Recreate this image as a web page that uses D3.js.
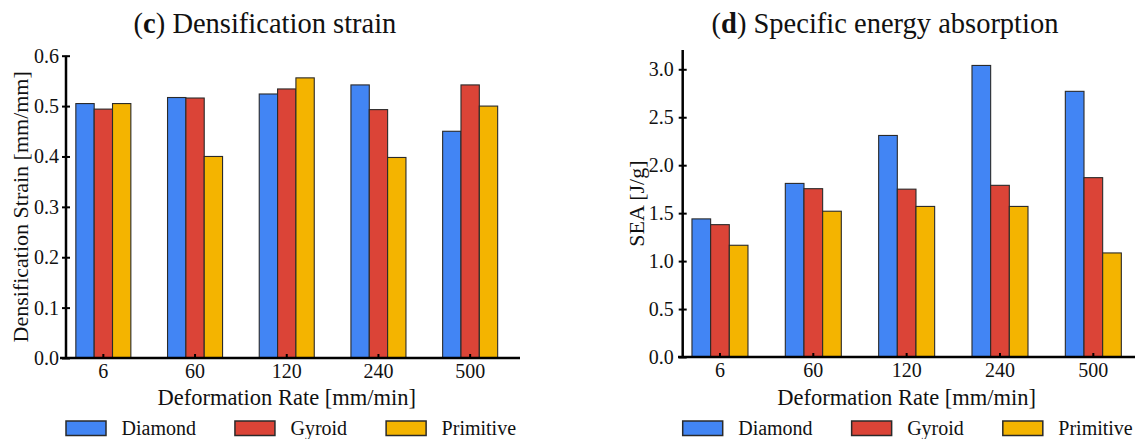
<!DOCTYPE html>
<html>
<head>
<meta charset="utf-8">
<script src="https://cdn.jsdelivr.net/npm/d3@7"></script>
<style>
	body { margin: 0; background: #fff; }
	svg { display: block; font-family: 'Liberation Serif', 'Times New Roman', serif; }
	svg text { font-family: 'Liberation Serif', 'Times New Roman', serif; }
</style>
</head>
<body>
<div id="chart"><svg width="1135" height="439"></svg></div>
<script>
var rates = ['6', '60', '120', '240', '500'];
var series = ['Diamond', 'Gyroid', 'Primitive'];
var colors = ['#4285f4', '#db4437', '#f4b400'];

var strainDiamond = [0.505, 0.517, 0.524, 0.542, 0.450];
var strainGyroid = [0.494, 0.516, 0.534, 0.493, 0.542];
var strainPrimitive = [0.505, 0.400, 0.556, 0.398, 0.500];
var strainTicks = [0, 0.1, 0.2, 0.3, 0.4, 0.5, 0.6];

var seaDiamond = [1.44, 1.81, 2.31, 3.04, 2.77];
var seaGyroid = [1.38, 1.755, 1.75, 1.79, 1.87];
var seaPrimitive = [1.165, 1.52, 1.57, 1.57, 1.085];
var seaTicks = [0, 0.5, 1.0, 1.5, 2.0, 2.5, 3.0];

var panels = [
	{
		letter: 'c', title: ' Densification strain', yLabel: 'Densification Strain [mm/mm]',
		values: [strainDiamond, strainGyroid, strainPrimitive], ticks: strainTicks, yMax: 0.6,
		xRange: [57.5, 516], yRange: [358, 55.7], axisX: 66, xLine: [60, 520], labelPad: 3, titleX: 265
	},
	{
		letter: 'd', title: ' Specific energy absorption', yLabel: 'SEA [J/g]',
		values: [seaDiamond, seaGyroid, seaPrimitive], ticks: seaTicks, yMax: 3.2,
		xRange: [673.3, 1140], yRange: [357, 50.1], axisX: 682.7, xLine: [678, 1140], labelPad: 5, titleX: 885
	}
];

var svg = d3.select('#chart > svg');

function drawPanel(p) {
	var g = svg.append('g');
	var x0 = d3.scaleBand().domain(rates).range(p.xRange).padding(0);
	var x1 = d3.scaleBand().domain(series).range([0, x0.bandwidth() * 0.6]);
	var y = d3.scaleLinear().domain([0, p.yMax]).range(p.yRange);
	var baseY = y(0);
	var off = (x0.bandwidth() - x1.range()[1]) / 2;

	var rows = rates.map(function(r, i) {
		return { rate: r, vals: series.map(function(s, j) { return { s: s, j: j, v: p.values[j][i] }; }) };
	});

	// bars
	g.selectAll('.grp').data(rows).enter().append('g')
		.attr('transform', function(d) { return 'translate(' + (x0(d.rate) + off) + ',0)'; })
		.selectAll('rect').data(function(d) { return d.vals; }).enter().append('rect')
		.attr('x', function(d) { return x1(d.s); })
		.attr('y', function(d) { return y(d.v); })
		.attr('width', x1.bandwidth())
		.attr('height', function(d) { return baseY - y(d.v); })
		.style('fill', function(d) { return colors[d.j]; })
		.style('stroke', '#2a2a2a')
		.style('stroke-width', 1.1);

	// y axis
	var ya = g.append('g')
		.attr('transform', 'translate(' + p.axisX + ',0)')
		.attr('font-family', null)
		.call(d3.axisLeft(y).tickValues(p.ticks).tickFormat(d3.format('.1f')).tickSizeOuter(0).tickSizeInner(4).tickPadding(p.labelPad));
	ya.attr('font-family', 'Liberation Serif');
	ya.select('.domain').remove();
	ya.selectAll('.tick line').attr('x1', -4).attr('x2', 4).style('stroke', '#000').style('stroke-width', 2);
	ya.selectAll('.tick text').style('font-size', '20px').attr('fill', '#111');
	g.append('line')
		.attr('x1', p.axisX).attr('x2', p.axisX)
		.attr('y1', y(p.yMax)).attr('y2', baseY + 1)
		.style('stroke', '#000').style('stroke-width', 2.5);

	// x axis
	var xa = g.append('g')
		.attr('transform', 'translate(0,' + baseY + ')')
		.call(d3.axisBottom(x0).tickSizeOuter(0).tickSizeInner(-4).tickPadding(0));
	xa.attr('font-family', 'Liberation Serif');
	xa.select('.domain').remove();
	xa.selectAll('.tick line').style('stroke', '#000').style('stroke-width', 2);
	xa.selectAll('.tick text').attr('y', 19.5).attr('dy', 0)
		.style('font-size', '20px').attr('fill', '#111');
	g.append('line')
		.attr('x1', p.xLine[0]).attr('x2', p.xLine[1])
		.attr('y1', baseY).attr('y2', baseY)
		.style('stroke', '#000').style('stroke-width', 2.5);

	// titles
	var cx = (p.xRange[0] + p.xRange[1]) / 2;
	var t = g.append('text').attr('x', p.titleX).attr('y', 33)
		.attr('text-anchor', 'middle').style('font-size', '28.5px').attr('fill', '#111');
	t.append('tspan').text('(');
	t.append('tspan').style('font-weight', 'bold').text(p.letter);
	t.append('tspan').text(')' + p.title);

	g.append('text').attr('x', cx).attr('y', 405)
		.attr('text-anchor', 'middle').style('font-size', '22.5px').attr('fill', '#111')
		.text('Deformation Rate [mm/min]');

	var my = (p.yRange[0] + p.yRange[1]) / 2;
	g.append('text')
		.attr('transform', 'translate(' + (p.axisX - 46) + ',' + my + ') rotate(-90)')
		.attr('text-anchor', 'middle').attr('dy', '0.35em')
		.style('font-size', '22px').attr('fill', '#111')
		.text(p.yLabel);

	// legend
	var lx = p.axisX;
	series.forEach(function(s, j) {
		g.append('rect').attr('x', lx).attr('y', 421).attr('width', 40).attr('height', 14.5)
			.style('fill', colors[j]).style('stroke', '#2a2a2a').style('stroke-width', 1.5);
		var txt = g.append('text').attr('x', lx + 55.5).attr('y', 435)
			.style('font-size', '20px').attr('fill', '#111').text(s);
		lx += 55.5 + txt.node().getComputedTextLength() + 39;
	});
}

panels.forEach(drawPanel);
</script>
</body>
</html>
